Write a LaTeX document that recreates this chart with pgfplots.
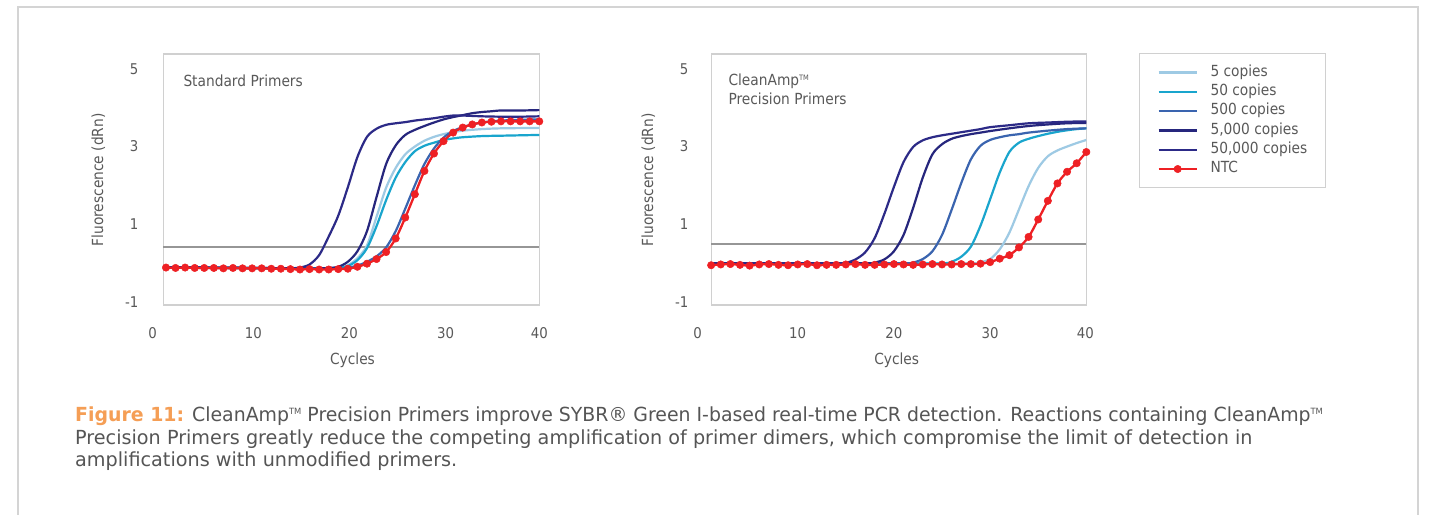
\documentclass[border=0pt]{standalone}
\usepackage{fontspec}
\setmainfont{DejaVu Sans}[FakeStretch=0.9]
\newfontfamily\capfamA{DejaVu Sans}[FakeStretch=0.974]
\newfontfamily\capfamB{DejaVu Sans}[FakeStretch=0.99]
\usepackage{pgfplots}
\pgfplotsset{compat=1.18}

\definecolor{txt}{RGB}{89,89,89}
\definecolor{capgray}{RGB}{85,85,85}
\definecolor{figorange}{RGB}{245,158,85}
\definecolor{framegray}{RGB}{212,212,212}
\definecolor{boxgray}{RGB}{208,208,208}
\definecolor{thrgray}{RGB}{150,150,150}
\definecolor{cfive}{RGB}{158,202,228}
\definecolor{cfifty}{RGB}{25,165,205}
\definecolor{cfivehundred}{RGB}{58,100,175}
\definecolor{cfivethousand}{RGB}{38,38,125}
\definecolor{cfiftythousand}{RGB}{44,42,135}
\definecolor{ntc}{RGB}{238,32,36}

\newcommand\tickfont{\fontsize{14.8bp}{17bp}\selectfont}
\newcommand\lblfont{\fontsize{15.3bp}{18bp}\selectfont}
\newcommand\capfontA{\capfamA\fontsize{19.4bp}{23bp}\selectfont}
\newcommand\capfontB{\capfamB\fontsize{19.4bp}{23bp}\selectfont}
\newcommand\tmcap{\raisebox{6.8bp}{\fontsize{8.6bp}{9bp}\selectfont TM}}
\newcommand\tmlbl{\raisebox{5.2bp}{\fontsize{7.4bp}{8bp}\selectfont TM}}

\pgfplotsset{
  pcr/.style={
    scale only axis, height=251bp,
    ymin=-1.085, ymax=5.387, xmin=-1, xmax=40,
    axis line style={draw=none}, major tick length=0pt,
    ytick={-1,1,3,5}, yticklabels={-1,1,3,5},
    xticklabels={0,10,20,30,40},
    tick label style={font=\tickfont, text=txt},
    xticklabel style={anchor=north, inner sep=0pt, yshift=-22.7bp},
    clip=false,
  },
  curve/.style={line width=2.2bp, smooth},
  ntcstyle/.style={smooth, ntc, line width=2.3bp, mark=*, mark size=3.7bp, mark options={fill=ntc, draw=ntc, line width=0.5bp}},
}

\begin{document}
\begin{tikzpicture}[x=1bp,y=1bp]
\path[use as bounding box] (0,0) rectangle (1437,515);
\fill[white] (0,0) rectangle (1437,515);
\draw[framegray, line width=1.3bp] (18,-2) -- (18,508) -- (1418,508) -- (1418,-2);

% ---------------- Standard Primers ----------------
\begin{axis}[pcr, at={(146.83bp,210bp)}, anchor=south west, width=392.45bp,
  xtick={-0.39,10.12,20.15,30.22,40},
  yticklabel style={anchor=east, inner sep=0pt, xshift=-8.3bp}]
\draw[boxgray, line width=1.2bp] (axis cs:0.72,-1.085) rectangle (axis cs:40,5.387);
\addplot[thrgray, line width=2bp, forget plot] coordinates {(0.72,0.40) (40,0.40)};
% 5 copies
\addplot[curve, cfive] coordinates {(1,-0.12)(5,-0.12)(10,-0.13)(15,-0.14)(18,-0.14)(19,-0.12)(20,-0.06)(21,0.12)(22,0.45)(23,1.19)(24,1.94)(25,2.45)(26,2.8)(27,3.0)(28,3.15)(29,3.25)(30,3.32)(31,3.37)(32,3.41)(34,3.45)(36,3.47)(40,3.48)};
% 50 copies
\addplot[curve, cfifty] coordinates {(1,-0.12)(5,-0.12)(10,-0.13)(15,-0.14)(18,-0.14)(19,-0.13)(20,-0.08)(21,0.07)(22,0.38)(23,0.95)(24,1.62)(25,2.2)(26,2.6)(27,2.88)(28,3.02)(29,3.1)(30,3.17)(31,3.21)(32,3.24)(34,3.27)(36,3.28)(38,3.29)(40,3.3)};
% 500 copies
\addplot[curve, cfivehundred] coordinates {(1,-0.12)(5,-0.13)(10,-0.14)(15,-0.15)(19,-0.15)(20,-0.12)(21,-0.07)(22,0.03)(23,0.17)(24,0.4)(25,0.82)(26,1.4)(27,2.0)(28,2.55)(29,2.95)(30,3.23)(31,3.4)(32,3.5)(33,3.57)(34,3.62)(35,3.65)(36,3.67)(38,3.69)(40,3.7)};
% 5,000 copies
\addplot[curve, cfivethousand] coordinates {(1,-0.11)(5,-0.12)(10,-0.13)(15,-0.14)(17,-0.14)(18,-0.13)(19,-0.1)(20,0.03)(21,0.3)(22,0.82)(23,1.7)(24,2.55)(25,3.03)(26,3.3)(27,3.43)(28,3.53)(29,3.62)(30,3.7)(31,3.76)(32,3.81)(33,3.86)(34,3.89)(35,3.91)(36,3.93)(38,3.93)(40,3.94)};
% 50,000 copies
\addplot[curve, cfiftythousand] coordinates {(1,-0.11)(5,-0.12)(10,-0.13)(13,-0.14)(14,-0.14)(15,-0.12)(16,-0.04)(17,0.2)(18,0.68)(19,1.22)(20,1.95)(21,2.73)(22,3.25)(23,3.46)(24,3.56)(25,3.6)(26,3.63)(27,3.67)(28,3.7)(29,3.73)(30,3.77)(31,3.8)(32,3.8)(34,3.78)(36,3.77)(38,3.77)(40,3.78)};
% NTC
\addplot[ntcstyle] coordinates {(1,-0.12)(2,-0.13)(3,-0.12)(4,-0.13)(5,-0.13)(6,-0.13)(7,-0.14)(8,-0.13)(9,-0.14)(10,-0.14)(11,-0.14)(12,-0.15)(13,-0.15)(14,-0.16)(15,-0.17)(16,-0.16)(17,-0.17)(18,-0.17)(19,-0.16)(20,-0.15)(21,-0.1)(22,-0.02)(23,0.1)(24,0.28)(25,0.63)(26,1.17)(27,1.77)(28,2.37)(29,2.82)(30,3.14)(31,3.36)(32,3.49)(33,3.57)(34,3.62)(35,3.64)(36,3.65)(37,3.65)(38,3.65)(39,3.65)(40,3.65)};
\end{axis}

% ---------------- CleanAmp Precision Primers ----------------
\begin{axis}[pcr, at={(691.88bp,210bp)}, anchor=south west, width=394.42bp,
  xtick={-0.4,10,20,30,39.9},
  yticklabel style={anchor=east, inner sep=0pt, xshift=-3.4bp},
  legend cell align=left,
  legend image code/.code={\draw[mark repeat=2, mark phase=2, #1] plot coordinates {(0bp,0bp) (19bp,0bp) (38bp,0bp)};},
  legend style={at={(axis description cs:1.1344,1.0028)}, anchor=north west,
    draw=boxgray, line width=1bp, fill=white, inner xsep=17.7bp, inner ysep=11.5bp,
    row sep=4.8bp, column sep=12.7bp, font=\lblfont, text=txt,
    nodes={inner sep=0pt, text height=11bp, text depth=3.5bp}}]
\draw[boxgray, line width=1.2bp] (axis cs:1,-1.085) rectangle (axis cs:40,5.387);
\addplot[thrgray, line width=2bp, forget plot] coordinates {(1,0.5) (40,0.5)};
\addplot[curve, cfive] coordinates {(1,-0.01)(10,-0.01)(20,-0.01)(28,-0.01)(29,0.02)(30,0.1)(31,0.35)(32,0.78)(33,1.38)(34,1.98)(35,2.45)(36,2.75)(37,2.9)(38,3.0)(39,3.09)(40,3.17)};
\addlegendentry{5 copies}
\addplot[curve, cfifty] coordinates {(1,-0.01)(10,-0.01)(20,-0.01)(25,-0.01)(26,0.03)(27,0.16)(28,0.42)(29,0.96)(30,1.64)(31,2.33)(32,2.86)(33,3.1)(34,3.2)(35,3.27)(36,3.33)(37,3.38)(38,3.42)(39,3.45)(40,3.47)};
\addlegendentry{50 copies}
\addplot[curve, cfivehundred] coordinates {(1,-0.01)(10,-0.01)(21,-0.01)(22,0.01)(23,0.1)(24,0.3)(25,0.72)(26,1.37)(27,2.06)(28,2.67)(29,3.02)(30,3.17)(31,3.24)(32,3.29)(33,3.32)(34,3.36)(36,3.41)(38,3.45)(40,3.47)};
\addlegendentry{500 copies}
\addplot[curve, cfivethousand] coordinates {(1,-0.01)(10,-0.01)(17,-0.01)(18,0.01)(19,0.09)(20,0.3)(21,0.72)(22,1.42)(23,2.2)(24,2.8)(25,3.06)(26,3.2)(27,3.27)(28,3.32)(29,3.36)(30,3.4)(32,3.47)(34,3.53)(36,3.57)(38,3.6)(40,3.61)};
\addlegendentry{5,000 copies}
\addplot[curve, cfiftythousand] coordinates {(1,-0.01)(10,-0.01)(14,-0.01)(15,0.0)(16,0.09)(17,0.27)(18,0.64)(19,1.26)(20,1.96)(21,2.6)(22,2.99)(23,3.16)(24,3.24)(25,3.29)(26,3.33)(27,3.37)(28,3.41)(29,3.45)(30,3.5)(32,3.55)(34,3.6)(36,3.62)(38,3.64)(40,3.65)};
\addlegendentry{50,000 copies}
\addplot[ntcstyle] coordinates {(1,-0.06)(2,-0.04)(3,-0.03)(4,-0.05)(5,-0.07)(6,-0.04)(7,-0.03)(8,-0.05)(9,-0.06)(10,-0.04)(11,-0.03)(12,-0.06)(13,-0.05)(14,-0.05)(15,-0.04)(16,-0.03)(17,-0.05)(18,-0.05)(19,-0.04)(20,-0.03)(21,-0.04)(22,-0.05)(23,-0.04)(24,-0.03)(25,-0.04)(26,-0.04)(27,-0.03)(28,-0.03)(29,-0.02)(30,0.02)(31,0.11)(32,0.2)(33,0.4)(34,0.67)(35,1.12)(36,1.6)(37,2.05)(38,2.35)(39,2.57)(40,2.86)};
\addlegendentry{NTC}
\end{axis}

% titles inside the plots
\node[anchor=base west, inner sep=0pt, font=\lblfont, text=txt] at (183.3,428.5) {Standard Primers};
\node[anchor=base west, inner sep=0pt, font=\lblfont, text=txt] at (728.3,429) {CleanAmp\tmlbl};
\node[anchor=base west, inner sep=0pt, font=\lblfont, text=txt] at (728.3,410) {Precision Primers};

% axis labels
\node[font=\lblfont, text=txt] at (352.5,154.3) {Cycles};
\node[font=\lblfont, text=txt] at (896.7,154.3) {Cycles};
\node[font=\lblfont, text=txt, rotate=90] at (98.3,335) {Fluorescence (dRn)};
\node[font=\lblfont, text=txt, rotate=90] at (648.3,335) {Fluorescence (dRn)};

% caption
\node[anchor=base west, inner sep=0pt, font=\capfontA, text=capgray] at (75,93.3) {\textcolor{figorange}{\bfseries Figure 11:} CleanAmp\tmcap\ Precision Primers improve SYBR® Green I-based real-time PCR detection. Reactions containing CleanAmp\tmcap};
\node[anchor=base west, inner sep=0pt, font=\capfontB, text=capgray] at (75,70.7) {Precision Primers greatly reduce the competing amplification of primer dimers, which compromise the limit of detection in};
\node[anchor=base west, inner sep=0pt, font=\capfontB, text=capgray] at (75,48) {amplifications with unmodified primers.};
\end{tikzpicture}
\end{document}
